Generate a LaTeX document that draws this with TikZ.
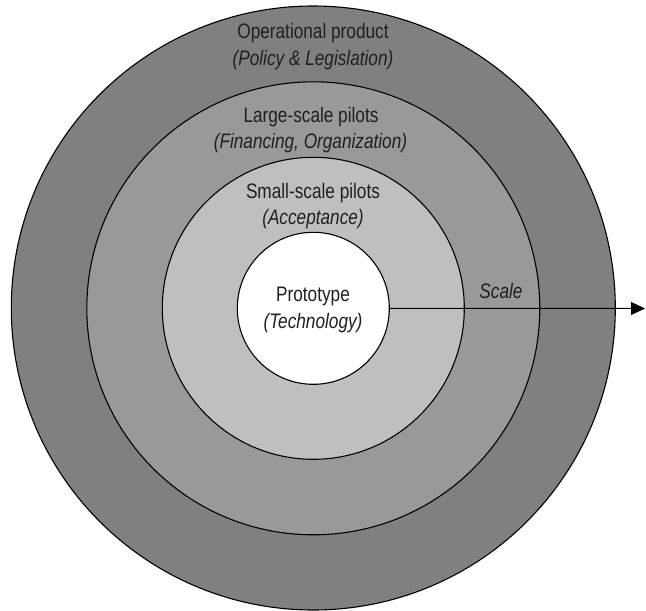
\documentclass[tikz,border=0pt]{standalone}
\usepackage{fontspec}
\setmainfont[FakeStretch=0.82]{Liberation Sans}
\usetikzlibrary{arrows.meta}
\begin{document}
\begin{tikzpicture}[x=1pt,y=-1pt,
  ring/.style={circle,draw=black,line width=1.1pt,inner sep=0pt},
  lbl/.style={anchor=base,inner sep=0pt,text=black!88,font=\fontsize{21}{27}\selectfont},
  ilbl/.style={lbl,font=\fontsize{21}{27}\selectfont\itshape}]
\useasboundingbox (0,0) rectangle (646,611);
\node[ring,fill=black!50,minimum size=604pt] (outer) at (313.3,308) {};
\node[ring,fill=black!40,minimum size=453pt] (large) at (313.3,308.3) {};
\node[ring,fill=black!25,minimum size=302pt] (small) at (313.3,308.3) {};
\node[ring,fill=white,minimum size=152pt] (proto) at (313.3,308.3) {};
\coordinate (tip) at (645,308.5);
\draw[line width=1pt,-{Triangle[length=14pt,width=13pt]}] (proto.east) -- (tip);
\node[lbl] (t1) at (313,38.5) {Operational product};
\node[ilbl] (t1b) at (313,65) {(Policy \& Legislation)};
\node[lbl] (t2) at (311,122.3) {Large-scale pilots};
\node[ilbl] (t2b) at (310.5,148.3) {(Financing, Organization)};
\node[lbl] (t3) at (313,198.5) {Small-scale pilots};
\node[ilbl] (t3b) at (313,224.5) {(Acceptance)};
\node[lbl] (t4) at (313,301.7) {Prototype};
\node[ilbl] (t4b) at (313,328.3) {(Technology)};
\node[ilbl] (sc) at (501,298.3) {Scale};
\end{tikzpicture}
\end{document}
